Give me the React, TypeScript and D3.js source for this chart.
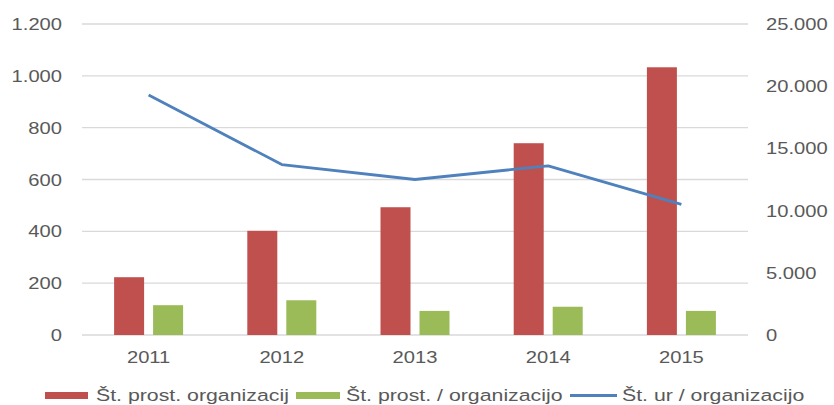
import React from "react";
import * as d3 from "d3";

const years = ["2011", "2012", "2013", "2014", "2015"];
const organizacij = [223, 402, 493, 740, 1033];
const prostPerOrg = [115, 134, 93, 109, 93];
const urPerOrg = [19300, 13700, 12500, 13600, 10500];
const leftTicks = [0, 200, 400, 600, 800, 1000, 1200];
const rightTicks = [0, 5000, 10000, 15000, 20000, 25000];
const seriesNames = ["Št. prost. organizacij", "Št. prost. / organizacijo", "Št. ur / organizacijo"];

const W = 834;
const H = 405;
const RED = "#C0504D";
const GREEN = "#9BBB59";
const BLUE = "#4F81BD";
const GRID = "#D9D9D9";
const TXT = "#595959";
const SX = 1.26;

const sl = d3.formatLocale({ decimal: ",", thousands: ".", grouping: [3], currency: ["", " €"] });
const fmt = sl.format(",");

function Label({ x, y, anchor, size = 16, children }: any) {
  return (
    <text
      transform={`translate(${x},${y}) scale(${SX},1)`}
      textAnchor={anchor}
      fill={TXT}
      fontSize={size}
      fontFamily="'Liberation Sans', Arial, sans-serif"
    >
      {children}
    </text>
  );
}

export default function App() {
  const x = d3.scaleBand().domain(years).range([82, 748]).paddingInner(0).paddingOuter(0);
  const bw = x.bandwidth();
  // two bars per year, 30px wide with a 9px gap, centred in the band
  const sub = d3
    .scaleBand()
    .domain(["a", "b"])
    .range([bw / 2 - 34.5, bw / 2 + 34.5])
    .paddingInner(0.2308)
    .paddingOuter(0);
  const yL = d3.scaleLinear().domain([0, 1200]).range([335, 24]);
  const yR = d3.scaleLinear().domain([0, 25000]).range([335, 24]);
  const line = d3
    .line<number>()
    .x((_, i) => (x(years[i]) as number) + bw / 2)
    .y((d) => yR(d));

  return (
    <svg width={W} height={H} style={{ position: "absolute", left: 0, top: 0, background: "#fff" }}>
      {leftTicks.map((t) => (
        <line key={"g" + t} x1={82} x2={748} y1={yL(t)} y2={yL(t)} stroke={GRID} strokeWidth={1.3} />
      ))}
      {leftTicks.map((t) => (
        <Label key={"l" + t} x={62} y={yL(t) + 6} anchor="end">
          {fmt(t)}
        </Label>
      ))}
      {rightTicks.map((t) => (
        <Label key={"r" + t} x={766} y={yR(t) + 6} anchor="start">
          {fmt(t)}
        </Label>
      ))}
      {years.map((yr, i) => (
        <g key={yr}>
          <rect
            x={(x(yr) as number) + (sub("a") as number)}
            width={sub.bandwidth()}
            y={yL(organizacij[i])}
            height={yL(0) - yL(organizacij[i])}
            fill={RED}
          />
          <rect
            x={(x(yr) as number) + (sub("b") as number)}
            width={sub.bandwidth()}
            y={yL(prostPerOrg[i])}
            height={yL(0) - yL(prostPerOrg[i])}
            fill={GREEN}
          />
          <Label x={(x(yr) as number) + bw / 2} y={363} anchor="middle">
            {yr}
          </Label>
        </g>
      ))}
      <path d={line(urPerOrg) as string} fill="none" stroke={BLUE} strokeWidth={2.8} strokeLinejoin="round" />

      <rect x={45} y={392} width={43} height={7} fill={RED} />
      <Label x={96} y={401} anchor="start" size={16.9}>{seriesNames[0]}</Label>
      <rect x={296} y={392} width={44} height={7} fill={GREEN} />
      <Label x={346} y={401} anchor="start" size={16.9}>{seriesNames[1]}</Label>
      <line x1={570} x2={617} y1={395.5} y2={395.5} stroke={BLUE} strokeWidth={2.8} />
      <Label x={622} y={401} anchor="start" size={16.9}>{seriesNames[2]}</Label>
    </svg>
  );
}
